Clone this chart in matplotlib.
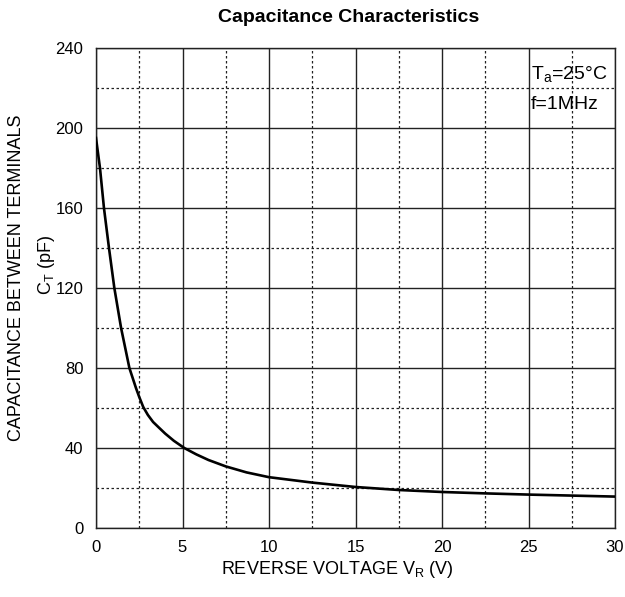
import matplotlib
matplotlib.use("Agg")
import matplotlib.pyplot as plt
from matplotlib.ticker import MultipleLocator

plt.rcParams['font.family'] = ['Liberation Sans', 'DejaVu Sans']
plt.rcParams['mathtext.fontset'] = 'custom'
plt.rcParams['mathtext.rm'] = 'Liberation Sans'

# ── data ──────────────────────────────────────────────────────────────────────
voltage = [0, 0.23, 0.46, 0.75, 1.06, 1.45, 1.93, 2.31, 2.5, 2.73, 3.0, 3.3,
           3.66, 4.0, 4.5, 5.1, 5.8, 6.5, 7.5, 8.7, 10, 12.5, 15, 17.5, 20,
           22.5, 25, 27.5, 30]
capacitance = [195, 180, 160, 140, 120, 100, 80, 70, 65.5, 60.5, 56.5, 53,
               50, 47.2, 43.6, 40, 36.8, 34, 30.8, 27.8, 25.4, 22.7, 20.5,
               19, 18, 17.3, 16.7, 16.2, 15.7]

x_ticks = [0, 5, 10, 15, 20, 25, 30]
y_ticks = [0, 40, 80, 120, 160, 200, 240]

fig = plt.figure(figsize=(6.25, 5.97), dpi=100)
ax = fig.add_axes([0.1536, 0.1156, 0.8304, 0.804])

ax.plot(voltage, capacitance, color="black", lw=1.9, zorder=3,
        solid_joinstyle="round")

ax.set_xlim(0, 30)
ax.set_ylim(0, 240)
ax.set_xticks(x_ticks)
ax.set_yticks(y_ticks)
ax.xaxis.set_minor_locator(MultipleLocator(2.5))
ax.yaxis.set_minor_locator(MultipleLocator(20))
ax.grid(which="major", color="#222222", lw=1.0, ls="-")
ax.grid(which="minor", color="#222222", lw=0.9, ls=(0, (2, 2)))
ax.tick_params(which="both", length=0, labelsize=12, pad=9)
for s in ax.spines.values():
    s.set_color("#222222")
    s.set_linewidth(1.0)

fig.text(0.557, 0.970, "Capacitance Characteristics", fontsize=14,
         fontweight="bold", ha="center", va="center")

fig.text(0.540, 0.028, r"REVERSE VOLTAGE V$_{\mathrm{R}}$ (V)", fontsize=13,
         ha="center", va="bottom")
fig.text(0.026, 0.534, "CAPACITANCE BETWEEN TERMINALS", fontsize=13,
         rotation=90, ha="center", va="center")
fig.text(0.074, 0.556, r"C$_{\mathrm{T}}$ (pF)", fontsize=13,
         rotation=90, ha="center", va="center")

ax.text(0.838, 0.944, r"T$_{\mathrm{a}}$=25°C", transform=ax.transAxes,
        fontsize=14, ha="left", va="center")
ax.text(0.838, 0.882, "f=1MHz", transform=ax.transAxes,
        fontsize=14, ha="left", va="center")

fig.savefig("out.png", dpi=100, facecolor="white")
